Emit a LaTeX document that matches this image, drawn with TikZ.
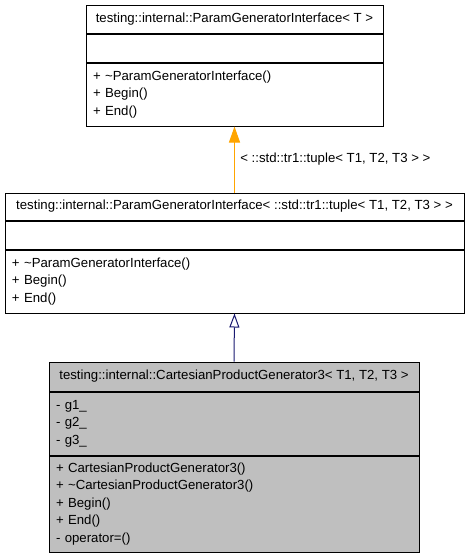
\documentclass[tikz,border=0pt]{standalone}
\usepackage{fontspec}
\setmainfont{Liberation Sans}
\usetikzlibrary{positioning,arrows.meta}
\definecolor{genorange}{HTML}{FFA500}
\definecolor{gennavy}{HTML}{191970}
\definecolor{gengray}{HTML}{BFBFBF}

\begin{document}
\begin{tikzpicture}[
    x=1pt, y=-1pt,
    font=\fontsize{13.2pt}{17.5pt}\selectfont,
    classtitle/.style={rectangle, draw, line width=1pt, align=center, inner sep=0pt},
    classpart/.style={rectangle, draw, line width=1pt, align=left, inner xsep=7pt, inner ysep=0pt},
    usearrow/.style={draw=genorange, line width=1pt, -{Triangle[width=11pt,length=16pt]}},
    basearrow/.style={draw=gennavy, line width=1pt, -{Triangle[width=10pt,length=14pt,fill=white]}}
]
\useasboundingbox (0,0) rectangle (469,557);

% ParamGeneratorInterface< T >
\node[classtitle, minimum width=297pt, minimum height=28pt] (iface) at (234.5,19) {testing::internal::ParamGeneratorInterface< T >};
\node[classpart, below=0pt of iface, text width=283pt, minimum height=28pt] (ifaceattr) {};
\node[classpart, below=0pt of ifaceattr, text width=283pt, minimum height=63pt] (ifaceops) {+ \textasciitilde ParamGeneratorInterface()\\+ Begin()\\+ End()};

% ParamGeneratorInterface< tuple >
\node[classtitle, minimum width=459pt, minimum height=27pt] (tupleiface) at (234.5,206.5) {testing::internal::ParamGeneratorInterface< ::std::tr1::tuple< T1, T2, T3 > >};
\node[classpart, below=0pt of tupleiface, text width=445pt, minimum height=28pt] (tupleattr) {};
\node[classpart, below=0pt of tupleattr, text width=445pt, minimum height=63pt] (tupleops) {+ \textasciitilde ParamGeneratorInterface()\\+ Begin()\\+ End()};

% CartesianProductGenerator3
\node[classtitle, fill=gengray, minimum width=370pt, minimum height=29pt] (cartgen) at (234,376.5) {testing::internal::CartesianProductGenerator3< T1, T2, T3 >};
\node[classpart, fill=gengray, below=0pt of cartgen, text width=356pt, minimum height=63pt] (cartattr) {- g1\_\\- g2\_\\- g3\_};
\node[classpart, fill=gengray, below=0pt of cartattr, text width=356pt, minimum height=96pt] (cartops) {+ CartesianProductGenerator3()\\+ \textasciitilde CartesianProductGenerator3()\\+ Begin()\\+ End()\\- operator=()};

\draw[usearrow] (tupleiface.north) -- (ifaceops.south) node[midway, right=2pt] {< ::std::tr1::tuple< T1, T2, T3 > >};
\draw[basearrow] (cartgen.north) -- (tupleops.south);
\end{tikzpicture}
\end{document}
